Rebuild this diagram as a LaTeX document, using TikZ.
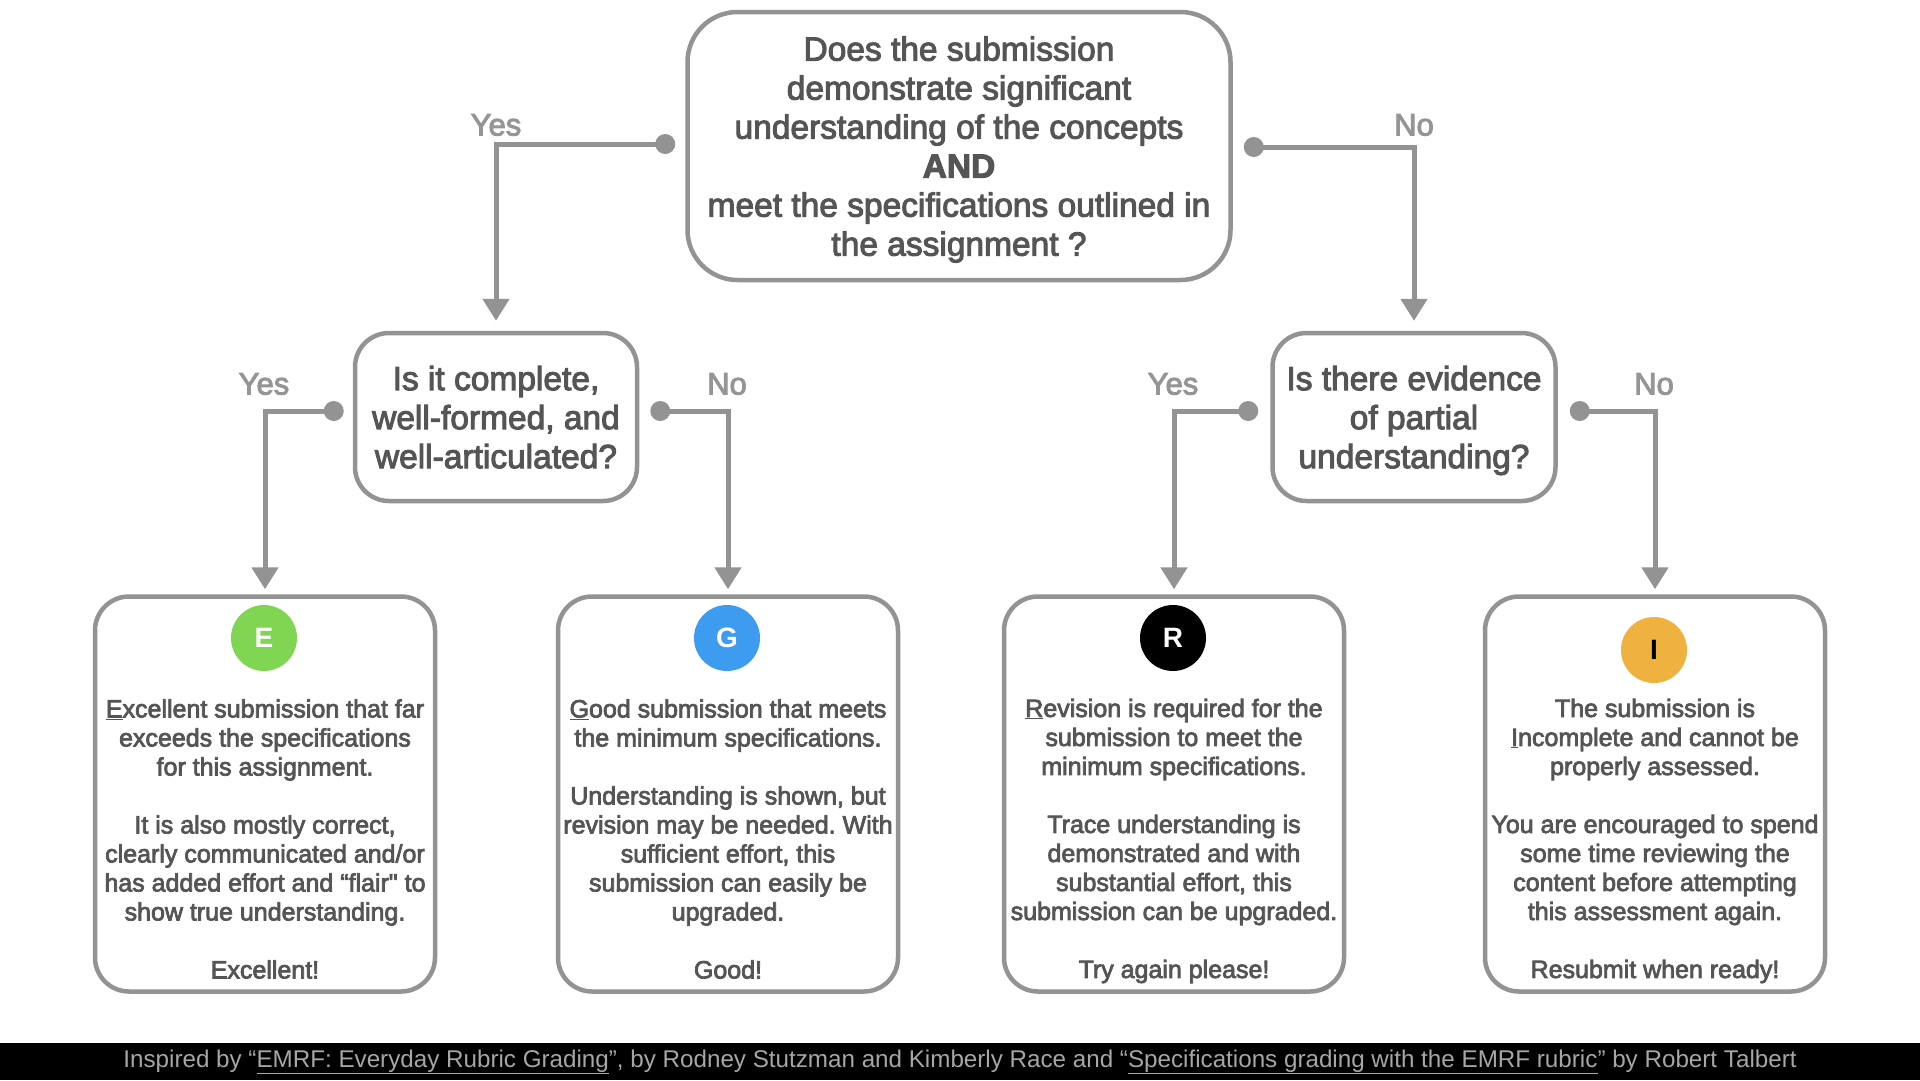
\documentclass[tikz,border=0pt]{standalone}
\usepackage{fontspec}
\setmainfont{Liberation Sans}
\newfontfamily\medfont{Liberation Sans}[FakeBold=3]
\usetikzlibrary{arrows.meta,calc,positioning}
\definecolor{linegrey}{HTML}{939393}
\definecolor{textgrey}{HTML}{555555}
\definecolor{labelgrey}{HTML}{959595}
\definecolor{footgrey}{HTML}{A6A6A6}
\definecolor{egreen}{HTML}{80D553}
\definecolor{gblue}{HTML}{3D9BF0}
\definecolor{iorange}{HTML}{F0B23F}
\newcommand{\bigq}{\fontsize{33.5}{39}\selectfont}
\newcommand{\smallq}{\fontsize{25}{29}\selectfont}
\frenchspacing

\begin{document}
\begin{tikzpicture}[x=1pt,y=-1pt,
  qbox/.style={draw=linegrey,line width=4.5pt,rounded corners=34pt,text=textgrey,align=center,font=\medfont\bigq,inner sep=0pt,text depth=0pt},
  gbox/.style={draw=linegrey,line width=4.5pt,rounded corners=34pt,minimum width=340pt,minimum height=395pt,inner sep=0pt},
  gtext/.style={text=textgrey,align=center,font=\medfont\smallq,inner sep=0pt},
  badge/.style={circle,minimum size=66pt,inner sep=0pt,font=\bfseries\fontsize{28}{28}\selectfont},
  lbl/.style={text=labelgrey,font=\medfont\fontsize{31}{31}\selectfont,inner sep=0pt},
  conn/.style={draw=linegrey,line width=5pt,-{Triangle[width=26pt,length=22pt]}},
  dot/.style={fill=linegrey}]
\useasboundingbox (0,0) rectangle (1920,1080);
\fill[white] (0,0) rectangle (1920,1080);

% questions
\node[qbox,minimum width=543pt,minimum height=268pt,rounded corners=50pt] (Q) at (959,146) {Does the submission\\ demonstrate significant\\ understanding of the concepts\\ {\bfseries AND}\\ meet the specifications outlined in\\ the assignment ?};
\node[qbox,minimum width=282pt,minimum height=168pt] (C) at (496,417) {Is it complete,\\ well-formed, and\\ well-articulated?};
\node[qbox,minimum width=283pt,minimum height=168pt] (P) at (1414,417) {Is there evidence\\ of partial\\ understanding?};

% grades
\node[gbox] (E) at (265,794) {};
\node[gbox] (G) at (728,794) {};
\node[gbox] (R) at (1174,794) {};
\node[gbox] (I) at (1655,794) {};
\node[badge,fill=egreen,text=white] (e) at (264,638) {E};
\node[badge,fill=gblue,text=white] (g) at (727,638) {G};
\node[badge,fill=black,text=white] (r) at (1173,638) {R};
\node[badge,fill=iorange,text=black] (i) at (1654,650) {I};
\node[gtext] (Etext) at (265,839) {\underline{E}xcellent submission that far\\ exceeds the specifications\\ for this assignment.\\ ~\\ It is also mostly correct,\\ clearly communicated and/or\\ has added effort and “flair" to\\ show true understanding.\\ ~\\ Excellent!};
\node[gtext] (Gtext) at (728,839) {\underline{G}ood submission that meets\\ the minimum specifications.\\ ~\\ Understanding is shown, but\\ revision may be needed. With\\ sufficient effort, this\\ submission can easily be\\ upgraded.\\ ~\\ Good!};
\node[gtext] (Rtext) at (1174,841) {\underline{R}evision is required for the\\ submission to meet the\\ minimum specifications.\\ ~\\ Trace understanding is\\ demonstrated and with\\ substantial effort, this\\ submission can be upgraded.\\ ~\\ Try again please!};
\node[gtext] (Itext) at (1655,841) {The submission is\\ \underline{I}ncomplete and cannot be\\ properly assessed.\\ ~\\ You are encouraged to spend\\ some time reviewing the\\ content before attempting\\ this assessment again.\\ ~\\ Resubmit when ready!};

% branches
\coordinate (Qyes) at ([xshift=-20pt,yshift=2pt]Q.west);
\coordinate (Qno) at ([xshift=21pt,yshift=-1pt]Q.east);
\coordinate (Cyes) at ([xshift=-19pt,yshift=6pt]C.west);
\coordinate (Cno) at ([xshift=21pt,yshift=6pt]C.east);
\coordinate (Pyes) at ([xshift=-22pt,yshift=6pt]P.west);
\coordinate (Pno) at ([xshift=22pt,yshift=6pt]P.east);
\path[conn,shorten >=10pt] (Qyes) -| (C.north);
\path[conn,shorten >=10pt] (Qno) -| (P.north);
\path[conn,shorten >=5pt] (Cyes) -| (E.north);
\path[conn,shorten >=5pt] (Cno) -| (G.north);
\path[conn,shorten >=5pt] (Pyes) -| (R.north);
\path[conn,shorten >=5pt] (Pno) -| (I.north);
\foreach \d in {Qyes,Qno,Cyes,Cno,Pyes,Pno}
  \fill[dot] (\d) circle (10pt);
\node[lbl] (yes1) at (496,125) {Yes};
\node[lbl] (no1) at (1414,125) {No};
\node[lbl] (yes2) at (264,384) {Yes};
\node[lbl] (no2) at (727,384) {No};
\node[lbl] (yes3) at (1173,384) {Yes};
\node[lbl] (no3) at (1654,384) {No};

% credits
\fill[black] (0,1043) rectangle (1920,1080);
\node[text=footgrey,font=\fontsize{24.2}{24.2}\selectfont,inner sep=0pt] (credit) at (960,1062) {Inspired by “\underline{EMRF: Everyday Rubric Grading}”, by Rodney Stutzman and Kimberly Race and “\underline{Specifications grading with the EMRF rubric}” by Robert Talbert};
\end{tikzpicture}
\end{document}
